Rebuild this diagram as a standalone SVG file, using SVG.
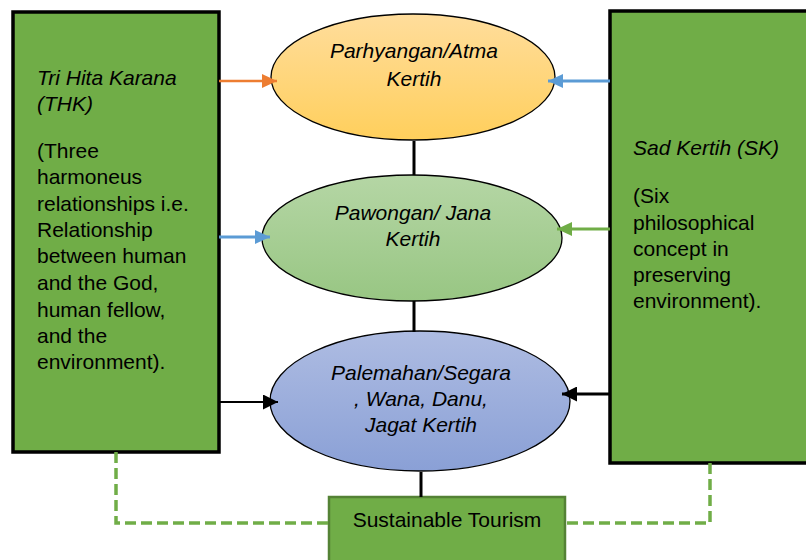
<svg xmlns="http://www.w3.org/2000/svg" width="806" height="560" viewBox="0 0 806 560">
<style>
.box{fill:#70AD47;stroke:#000;stroke-width:3.5}
.ell{stroke:#000;stroke-width:1.3}
.t{font-family:"Liberation Sans",Arial,sans-serif;font-size:21px;fill:#000}
.i{font-style:italic}
.c{text-anchor:middle}
.ln{stroke:#000;stroke-width:3;fill:none}
.dash{stroke:#70AD47;stroke-width:3.5;fill:none;stroke-dasharray:11 5}
</style>
<defs>
<linearGradient id="gO" x1="0" y1="0" x2="0" y2="1"><stop offset="0" stop-color="#FFDD9C"/><stop offset="1" stop-color="#FFCF5C"/></linearGradient>
<linearGradient id="gG" x1="0" y1="0" x2="0" y2="1"><stop offset="0" stop-color="#B5D6A5"/><stop offset="1" stop-color="#98C683"/></linearGradient>
<linearGradient id="gB" x1="0" y1="0" x2="0" y2="1"><stop offset="0" stop-color="#AEBCE2"/><stop offset="1" stop-color="#8AA0D6"/></linearGradient>
<marker id="aO" markerWidth="15" markerHeight="14" refX="15" refY="7" orient="auto" markerUnits="userSpaceOnUse"><path d="M0,0 L15,7 L0,14 Z" fill="#ED7D31"/></marker>
<marker id="aB" markerWidth="15" markerHeight="14" refX="15" refY="7" orient="auto" markerUnits="userSpaceOnUse"><path d="M0,0 L15,7 L0,14 Z" fill="#5B9BD5"/></marker>
<marker id="aG" markerWidth="15" markerHeight="14" refX="15" refY="7" orient="auto" markerUnits="userSpaceOnUse"><path d="M0,0 L15,7 L0,14 Z" fill="#70AD47"/></marker>
<marker id="aK" markerWidth="15" markerHeight="15" refX="15" refY="7.5" orient="auto" markerUnits="userSpaceOnUse"><path d="M0,0 L15,7.5 L0,15 Z" fill="#000"/></marker>
</defs>
<rect width="806" height="560" fill="#fff"/>
<g id="thk">
<rect class="box" x="13" y="12" width="206" height="440"/>
<text class="t i" x="37" y="85">Tri Hita Karana</text>
<text class="t i" x="37" y="111">(THK)</text>
<text class="t" x="37" y="158">(Three</text>
<text class="t" x="37" y="184">harmoneus</text>
<text class="t" x="37" y="211">relationships i.e.</text>
<text class="t" x="37" y="237">Relationship</text>
<text class="t" x="37" y="263">between human</text>
<text class="t" x="37" y="290">and the God,</text>
<text class="t" x="37" y="317">human fellow,</text>
<text class="t" x="37" y="343">and the</text>
<text class="t" x="37" y="369">environment).</text>
</g>
<g id="sk">
<rect class="box" x="610" y="11" width="200" height="452"/>
<text class="t i" x="633" y="155">Sad Kertih (SK)</text>
<text class="t" x="633" y="203">(Six</text>
<text class="t" x="633" y="230">philosophical</text>
<text class="t" x="633" y="256">concept in</text>
<text class="t" x="633" y="282">preserving</text>
<text class="t" x="633" y="308">environment).</text>
</g>
<g id="parhyangan">
<ellipse class="ell" cx="413" cy="77" rx="142" ry="63" fill="url(#gO)"/>
<text class="t i c" x="414" y="58">Parhyangan/Atma</text>
<text class="t i c" x="414" y="86">Kertih</text>
</g>
<g id="pawongan">
<ellipse class="ell" cx="412" cy="238" rx="150" ry="63" fill="url(#gG)"/>
<text class="t i c" x="413" y="220">Pawongan/ Jana</text>
<text class="t i c" x="413" y="246">Kertih</text>
</g>
<g id="palemahan">
<ellipse class="ell" cx="420" cy="401" rx="150" ry="70" fill="url(#gB)"/>
<text class="t i c" x="421" y="380">Palemahan/Segara</text>
<text class="t i c" x="421" y="406">, Wana, Danu,</text>
<text class="t i c" x="421" y="432">Jagat Kertih</text>
</g>
<g id="tourism">
<rect x="329" y="497" width="236" height="70" fill="#70AD47" stroke="#548235" stroke-width="2.5"/>
<text class="t c" x="447" y="527">Sustainable Tourism</text>
</g>
<g id="connectors">
<line class="ln" x1="414" y1="141" x2="414" y2="175"/>
<line class="ln" x1="414" y1="301" x2="414" y2="332"/>
<line class="ln" x1="421" y1="472" x2="421" y2="497"/>
<line x1="219" y1="81" x2="277" y2="81" stroke="#ED7D31" stroke-width="2.5" marker-end="url(#aO)"/>
<line x1="610" y1="81" x2="548" y2="81" stroke="#5B9BD5" stroke-width="3" marker-end="url(#aB)"/>
<line x1="219" y1="237" x2="270" y2="237" stroke="#5B9BD5" stroke-width="3" marker-end="url(#aB)"/>
<line x1="610" y1="229" x2="557" y2="229" stroke="#70AD47" stroke-width="3" marker-end="url(#aG)"/>
<line x1="219" y1="402" x2="278" y2="402" stroke="#000" stroke-width="2" marker-end="url(#aK)"/>
<line x1="610" y1="394" x2="562" y2="394" stroke="#000" stroke-width="3" marker-end="url(#aK)"/>
<polyline class="dash" points="116,452 116,523 329,523"/>
<polyline class="dash" points="710,463 710,523 565,523"/>
</g>
</svg>
